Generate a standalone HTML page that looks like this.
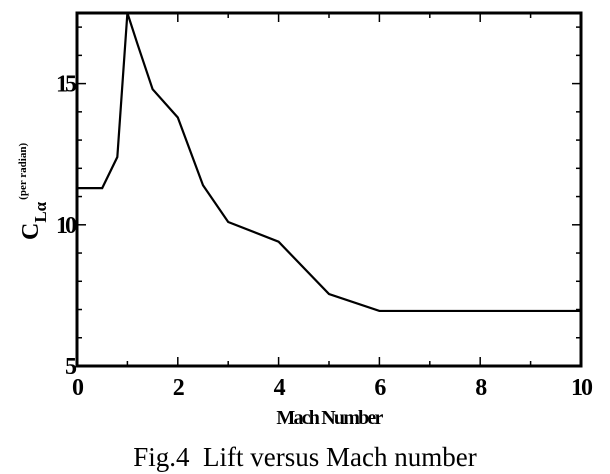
<!DOCTYPE html>
<html><head><meta charset="utf-8"><style>
body{margin:0;background:#fff;}
svg{display:block;font-family:"Liberation Serif",serif;}
</style></head><body>
<svg id="chart" width="610" height="474"></svg>
<script>
const machValues=[0,0.5,0.8,1.0,1.2,1.5,2,2.5,3,4,5,6,10];
const clValues=[11.3,11.3,12.4,17.5,16.4,14.8,13.8,11.4,10.1,9.4,7.55,6.95,6.95];
const xTicks=[0,2,4,6,8,10];
const yTicks=[5,10,15];
const L=77,R=581,T=13,B=366,xMin=0,xMax=10,yMin=5,yMax=17.5;
const xs=v=>L+(v-xMin)/(xMax-xMin)*(R-L);
const ys=v=>B-(v-yMin)/(yMax-yMin)*(B-T);
const svg=document.getElementById('chart');
const NS='http://www.w3.org/2000/svg';
function mk(t,a){const e=document.createElementNS(NS,t);for(const k in a)e.setAttribute(k,a[k]);svg.appendChild(e);return e;}
for(let v=yMin+1;v<yMax;v+=1){
 const w=(v%5===0)?9:5;
 const t1=mk('line',{x1:L,x2:L+w,y1:ys(v),y2:ys(v),stroke:'#000','stroke-width':1.5});
 
 
 const t2=mk('line',{x1:R,x2:R-w,y1:ys(v),y2:ys(v),stroke:'#000','stroke-width':1.5});
 
 
}
for(let v=1;v<xMax;v+=1){
 const w=(v%2===0)?9:5;
 const t1=mk('line',{x1:xs(v),x2:xs(v),y1:B,y2:B-w,stroke:'#000','stroke-width':1.5});
 
 
 const t2=mk('line',{x1:xs(v),x2:xs(v),y1:T,y2:T+w,stroke:'#000','stroke-width':1.5});
 
 
}
const line=mk('polyline',{points:machValues.map((m,i)=>xs(m)+','+ys(clValues[i])).join(' '),fill:'none',stroke:'#000','stroke-width':2.2});


const fr=mk('rect',{x:L,y:T,width:R-L,height:B-T,fill:'none',stroke:'#000','stroke-width':3});


xTicks.forEach(v=>{
 const t=mk('text',{x:xs(v),y:B+29,'text-anchor':'middle','font-size':24,'font-weight':'bold','letter-spacing':-2});
 t.textContent=v;
 
 
});
yTicks.forEach(v=>{
 const t=mk('text',{x:L-3,y:ys(v)+8,'text-anchor':'end','font-size':24,'font-weight':'bold','letter-spacing':-3});
 t.textContent=v;
 
 
});
const xt=mk('text',{x:329,y:424,'text-anchor':'middle','font-size':20,'font-weight':'bold','letter-spacing':-1.8});
xt.textContent='Mach Number';


const yt=mk('g',{transform:'translate(38,240) rotate(-90)'});


yt.innerHTML='<text x="0" y="0" font-size="24" font-weight="bold">C<tspan font-size="17" dy="8">Lα</tspan><tspan font-size="11" dy="-20" dx="2">(per radian)</tspan></text>';
const cap=mk('text',{x:305,y:466,'text-anchor':'middle','font-size':27});
cap.setAttribute('xml:space','preserve');
cap.style.whiteSpace='pre';
cap.textContent='Fig.4  Lift versus Mach number';


</script>
</body></html>
